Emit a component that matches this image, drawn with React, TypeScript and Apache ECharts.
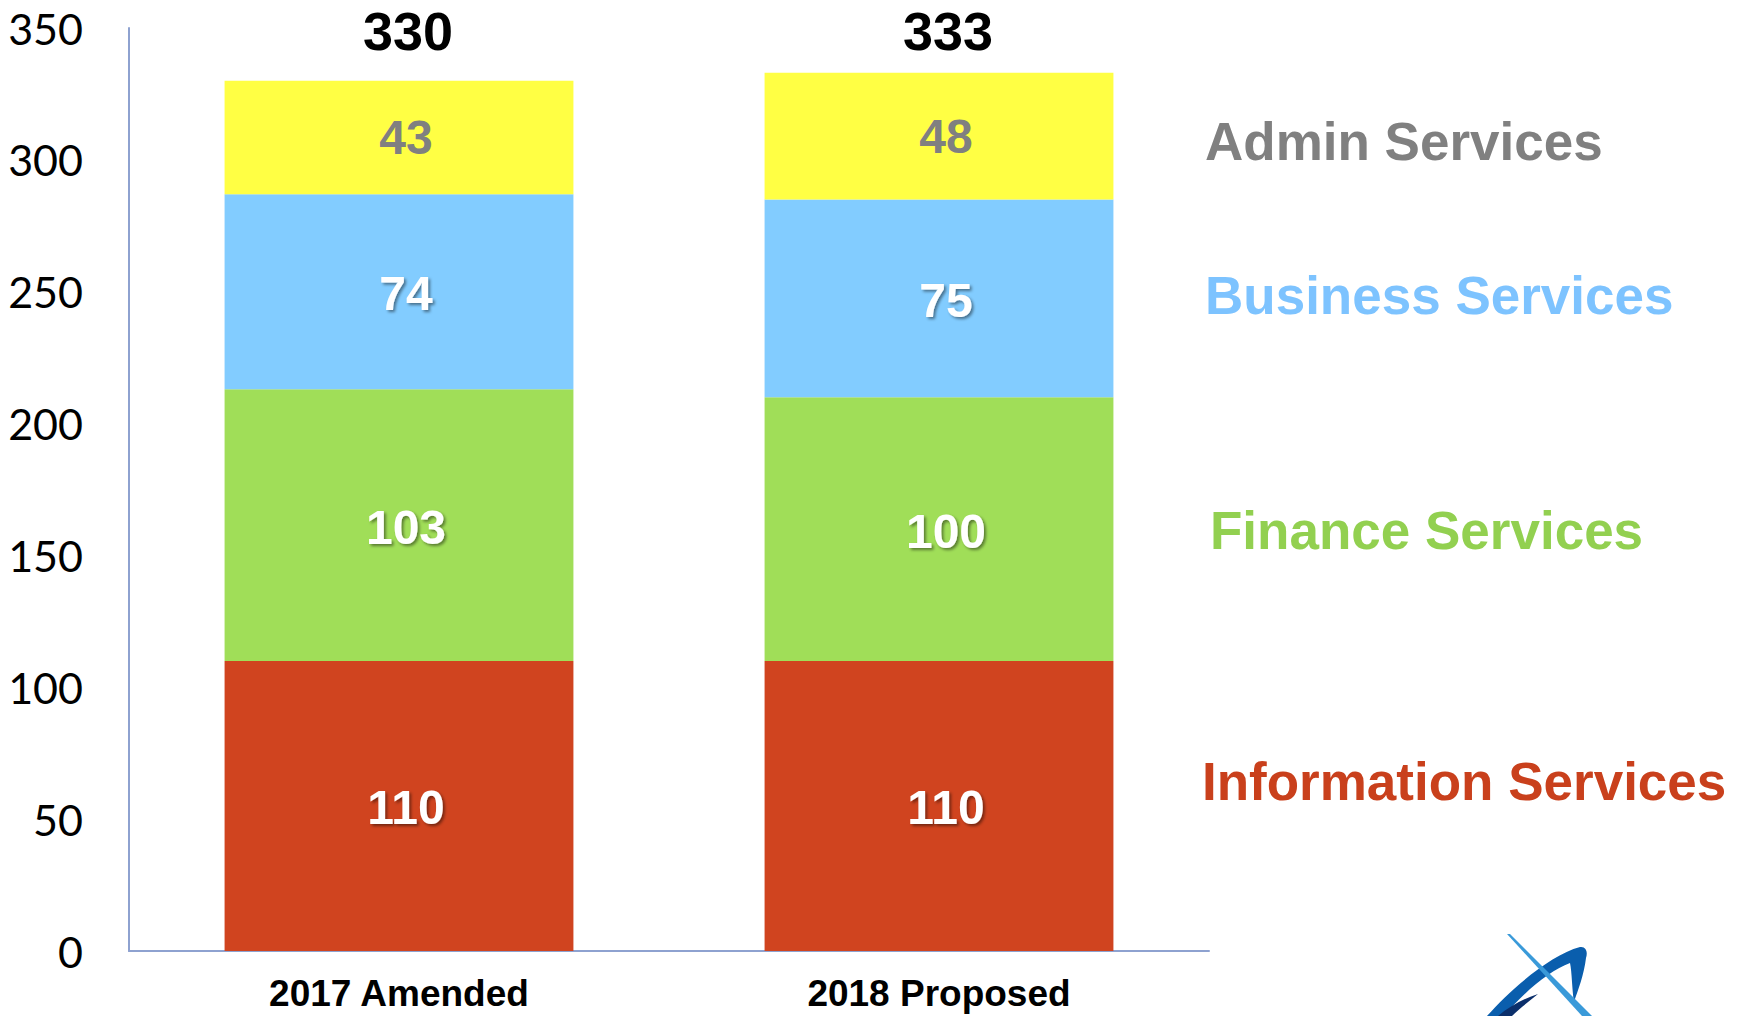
import React, { useEffect, useRef } from "react";
import * as echarts from "echarts";

const categories = ["2017 Amended", "2018 Proposed"];
const informationServices = [110, 110];
const financeServices = [103, 100];
const businessServices = [74, 75];
const adminServices = [43, 48];
const totals = [330, 333];
const seriesNames = ["Information Services", "Finance Services", "Business Services", "Admin Services"];
const seriesColors = ["#D0441F", "#A0DE58", "#82CCFF", "#FFFF44"];
const nameColors = ["#C9401C", "#92D050", "#7DC3FF", "#808080"];
const yMin = 0;
const yMax = 350;
const yInterval = 50;

const LOGO_MAIN =
  "M 7 86 C 30 60 70 25 100 17 C 106 16 108 22 106 28 C 104 45 98 60 94 72 C 92 60 92 42 90 33 C 70 40 42 64 24 86 Z";
const LOGO_DARK = "M 18 86 C 30 76 45 68 58 64 C 48 72 38 80 32 86 Z";
const LOGO_LINE = "M 27 4 L 30 4 L 112 86 L 102 86 Z";

let registered = false;
function registerLogo() {
  if (registered) return;
  registered = true;
  echarts.graphic.registerShape("logoMain", echarts.graphic.extendPath(LOGO_MAIN, {}) as any);
  echarts.graphic.registerShape("logoDark", echarts.graphic.extendPath(LOGO_DARK, {}) as any);
  echarts.graphic.registerShape("logoLine", echarts.graphic.extendPath(LOGO_LINE, {}) as any);
}

export default function App() {
  const ref = useRef<HTMLDivElement>(null);
  useEffect(() => {
    if (!ref.current) return;
    registerLogo();
    const chart = echarts.init(ref.current, undefined, { renderer: "svg" });
    const segLists = [informationServices, financeServices, businessServices, adminServices];
    const whiteLabel = {
      show: true,
      position: "inside",
      offset: [7, 2],
      fontFamily: "'Liberation Sans', Arial, sans-serif",
      fontWeight: "bold",
      fontSize: 48,
      color: "#FFFFFF",
      textShadowColor: "rgba(0,0,0,0.45)",
      textShadowBlur: 3,
      textShadowOffsetX: 2,
      textShadowOffsetY: 2,
    };
    const series: any[] = segLists.map((data, i) => ({
      name: seriesNames[i],
      type: "bar",
      stack: "total",
      barWidth: "64.6%",
      data,
      itemStyle: { color: seriesColors[i] },
      label:
        i === 3
          ? { ...whiteLabel, offset: [7, 0], color: "#808080", textShadowColor: "transparent", textShadowBlur: 0, textShadowOffsetX: 0, textShadowOffsetY: 0 }
          : whiteLabel,
    }));
    const labelY = [781, 530, 295, 141];
    const labelX = [1202, 1210, 1205, 1205];
    const graphic: any[] = seriesNames.map((n, i) => ({
      type: "text",
      x: labelX[i],
      y: labelY[i],
      style: {
        text: n,
        fill: nameColors[i],
        font: "bold 53px 'Liberation Sans', Arial, sans-serif",
        textVerticalAlign: "middle",
        verticalAlign: "middle",
      },
    }));
    graphic.push(
      { type: "logoMain", x: 1480, y: 930, style: { fill: "#0A5EAD" } },
      { type: "logoDark", x: 1480, y: 930, style: { fill: "#0B2F6B" } },
      { type: "logoLine", x: 1480, y: 930, style: { fill: "#3A9AD9" } }
    );
    chart.setOption({
      animation: false,
      backgroundColor: "#FFFFFF",
      grid: { left: 129, right: 535, top: 28, bottom: 65, containLabel: false },
      xAxis: [
        {
          type: "category",
          data: categories,
          axisLine: { show: true, lineStyle: { color: "#8EA2D0", width: 2 } },
          axisTick: { show: false },
          axisLabel: {
            margin: 24,
            fontFamily: "'Liberation Sans', Arial, sans-serif",
            fontWeight: "bold",
            fontSize: 37,
            color: "#000000",
          },
        },
        {
          type: "category",
          position: "top",
          data: totals.map(String),
          offset: -30,
          axisLine: { show: false },
          axisTick: { show: false },
          axisLabel: {
            margin: 0,
            padding: [0, 0, 0, 18],
            fontFamily: "'Liberation Sans', Arial, sans-serif",
            fontWeight: "bold",
            fontSize: 54,
            color: "#000000",
          },
        },
      ],
      yAxis: {
        type: "value",
        min: yMin,
        max: yMax,
        interval: yInterval,
        axisLine: { show: true, lineStyle: { color: "#8EA2D0", width: 2 } },
        axisTick: { show: false },
        splitLine: { show: false },
        axisLabel: { margin: 46, fontFamily: "Lato, sans-serif", fontSize: 43, color: "#000000" },
      },
      series,
      graphic,
    });
    return () => chart.dispose();
  }, []);
  return (
    <div
      ref={ref}
      style={{ position: "fixed", left: 0, top: 0, width: 1744, height: 1016, background: "#fff" }}
    />
  );
}
